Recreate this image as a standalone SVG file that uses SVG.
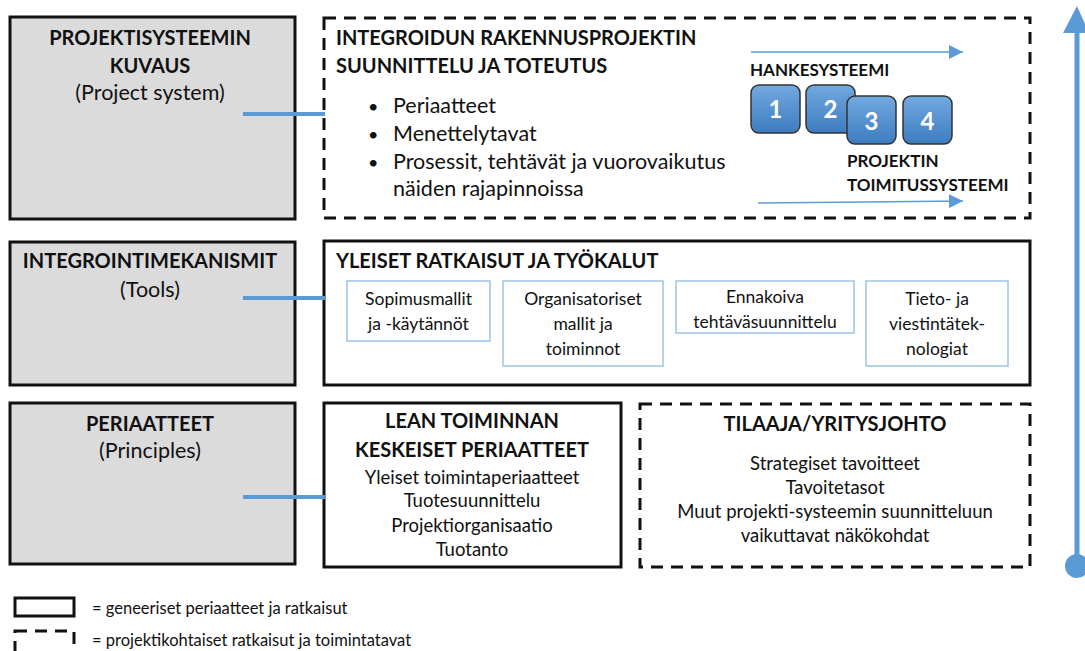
<svg xmlns="http://www.w3.org/2000/svg" width="1085" height="651" viewBox="0 0 1085 651">
<defs>
<style>
text{font-family:Lato,"Open Sans","Liberation Sans",sans-serif;fill:#111}
.b{font-weight:bold}
.h{font-size:20px;font-weight:bold}
.r{font-size:21.5px}
.s{font-size:17.5px}
.t{font-size:18.5px}
.c{text-anchor:middle}
.gray{fill:#dcdbdc;stroke:#111;stroke-width:3}
.solid{fill:#fff;stroke:#111;stroke-width:3}
.dash{fill:#fff;stroke:#111;stroke-width:3;stroke-dasharray:12 8}
.inner{fill:#fff;stroke:#9dc3e6;stroke-width:1.5}
.link{stroke:#5b9bd5;stroke-width:4;fill:none}
.thin{stroke:#5b9bd5;stroke-width:1.5;fill:none}
.num{fill:url(#g);stroke:#333;stroke-width:1.5}
.nt{font-size:24px;font-weight:bold;fill:#fff;text-anchor:middle}
.lg{font-size:16.5px}
.sys{font-size:17px;font-weight:bold}
</style>
<linearGradient id="g" x1="0" y1="0" x2="0" y2="1">
<stop offset="0" stop-color="#72a9df"/>
<stop offset="1" stop-color="#3d7cc1"/>
</linearGradient>
<marker id="ah" viewBox="0 0 10 10" refX="10" refY="5" markerWidth="14" markerHeight="14" markerUnits="userSpaceOnUse" orient="auto">
<path d="M0,0 L10,5 L0,10 z" fill="#5b9bd5"/>
</marker>
</defs>

<g id="n-projektisysteemi">
<rect class="gray" x="10" y="17" width="285" height="202"/>
<text class="h c" x="150" y="45">PROJEKTISYSTEEMIN</text>
<text class="h c" x="150" y="73">KUVAUS</text>
<text class="r c" x="150" y="100">(Project system)</text>
</g>

<g id="n-integrointimekanismit">
<rect class="gray" x="10" y="242" width="285" height="143"/>
<text class="h c" x="150" y="268">INTEGROINTIMEKANISMIT</text>
<text class="r c" x="150" y="297">(Tools)</text>
</g>

<g id="n-periaatteet">
<rect class="gray" x="10" y="403" width="285" height="161"/>
<text class="h c" x="150" y="431">PERIAATTEET</text>
<text class="r c" x="150" y="458">(Principles)</text>
</g>

<g id="n-integroidun">
<rect class="dash" x="324" y="18" width="706" height="200"/>
<text class="h" x="336" y="45">INTEGROIDUN RAKENNUSPROJEKTIN</text>
<text class="h" x="336" y="73">SUUNNITTELU JA TOTEUTUS</text>
<text class="r" x="368" y="113" style="font-size:18px">•</text>
<text class="r" x="393" y="113">Periaatteet</text>
<text class="r" x="368" y="141" style="font-size:18px">•</text>
<text class="r" x="393" y="141">Menettelytavat</text>
<text class="r" x="368" y="169" style="font-size:18px">•</text>
<text class="r" x="393" y="169">Prosessit, tehtävät ja vuorovaikutus</text>
<text class="r" x="393" y="196">näiden rajapinnoissa</text>
<line class="thin" x1="751" y1="52" x2="963" y2="52" marker-end="url(#ah)"/>
<line class="thin" x1="758" y1="203" x2="963" y2="201" marker-end="url(#ah)"/>
<text class="sys" x="750" y="76">HANKESYSTEEMI</text>
<text class="sys" x="847" y="167">PROJEKTIN</text>
<text class="sys" x="847" y="191">TOIMITUSSYSTEEMI</text>
</g>

<g id="n-num1">
<rect class="num" x="751" y="85" width="49" height="48" rx="8"/>
<text class="nt" x="775.5" y="118">1</text>
</g>
<g id="n-num2">
<rect class="num" x="806" y="85" width="49" height="48" rx="8"/>
<text class="nt" x="830.5" y="118">2</text>
</g>
<g id="n-num3">
<rect class="num" x="847" y="96" width="49" height="48" rx="8"/>
<text class="nt" x="871.5" y="130">3</text>
</g>
<g id="n-num4">
<rect class="num" x="903" y="96" width="49" height="48" rx="8"/>
<text class="nt" x="927.5" y="130">4</text>
</g>

<g id="n-yleiset">
<rect class="solid" x="324" y="241" width="706" height="144"/>
<text class="h" x="336" y="268">YLEISET RATKAISUT JA TYÖKALUT</text>
</g>
<g id="n-sopimus">
<rect class="inner" x="347" y="281" width="143" height="60"/>
<text class="s c" x="418.5" y="305">Sopimusmallit</text>
<text class="s c" x="418.5" y="330">ja -käytännöt</text>
</g>
<g id="n-organisatoriset">
<rect class="inner" x="503" y="281" width="160" height="85"/>
<text class="s c" x="583" y="305">Organisatoriset</text>
<text class="s c" x="583" y="330">mallit ja</text>
<text class="s c" x="583" y="355">toiminnot</text>
</g>
<g id="n-ennakoiva">
<rect class="inner" x="676" y="281" width="178" height="52"/>
<text class="s c" x="765" y="303">Ennakoiva</text>
<text class="s c" x="765" y="328">tehtäväsuunnittelu</text>
</g>
<g id="n-tieto">
<rect class="inner" x="866" y="281" width="142" height="85"/>
<text class="s c" x="937" y="305">Tieto- ja</text>
<text class="s c" x="937" y="330">viestintätek-</text>
<text class="s c" x="937" y="355">nologiat</text>
</g>

<g id="n-lean">
<rect class="solid" x="324" y="403" width="297" height="164"/>
<text class="h c" x="472" y="428">LEAN TOIMINNAN</text>
<text class="h c" x="472" y="457">KESKEISET PERIAATTEET</text>
<text class="t c" x="472" y="484">Yleiset toimintaperiaatteet</text>
<text class="t c" x="472" y="507">Tuotesuunnittelu</text>
<text class="t c" x="472" y="532">Projektiorganisaatio</text>
<text class="t c" x="472" y="556">Tuotanto</text>
</g>

<g id="n-tilaaja">
<rect class="dash" x="640" y="404" width="390" height="163"/>
<text class="h c" x="835" y="431">TILAAJA/YRITYSJOHTO</text>
<text class="t c" x="835" y="470">Strategiset tavoitteet</text>
<text class="t c" x="835" y="494">Tavoitetasot</text>
<text class="t c" x="835" y="518">Muut projekti-systeemin suunnitteluun</text>
<text class="t c" x="835" y="542">vaikuttavat näkökohdat</text>
</g>

<g id="connectors">
<line class="link" x1="243" y1="114" x2="325" y2="114"/>
<line class="link" x1="243" y1="298" x2="325" y2="298"/>
<line class="link" x1="243" y1="497" x2="325" y2="497"/>
<line x1="1077" y1="566" x2="1077" y2="30" stroke="#5b9bd5" stroke-width="5"/>
<path d="M1063,33 L1077,6 L1089,33 z" fill="#5b9bd5"/>
<circle cx="1077" cy="566" r="12" fill="#5b9bd5"/>
</g>

<g id="legend">
<rect x="15" y="598" width="59" height="18" fill="#fff" stroke="#111" stroke-width="3"/>
<text class="lg" x="92" y="614">= geneeriset periaatteet ja ratkaisut</text>
<rect x="15" y="631" width="59" height="22" fill="#fff" stroke="#111" stroke-width="3" stroke-dasharray="12 8"/>
<text class="lg" x="92" y="646">= projektikohtaiset ratkaisut ja toimintatavat</text>
</g>
</svg>
